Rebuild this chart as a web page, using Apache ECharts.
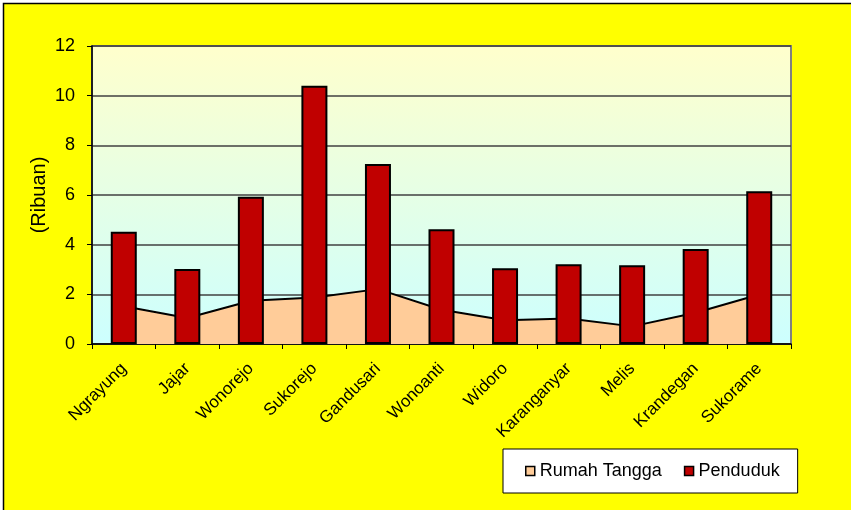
<!DOCTYPE html>
<html>
<head>
<meta charset="utf-8">
<script src="https://cdn.jsdelivr.net/npm/echarts@6/dist/echarts.min.js"></script>
<style>
html,body{margin:0;padding:0;background:#fff;}
#c{width:851px;height:510px;}
</style>
</head>
<body>
<div id="c"></div>
<script>
var categories = ['Ngrayung','Jajar','Wonorejo','Sukorejo','Gandusari','Wonoanti','Widoro','Karanganyar','Melis','Krandegan','Sukorame'];
var rumahTangga = [1.52, 1.05, 1.74, 1.87, 2.21, 1.38, 0.96, 1.03, 0.71, 1.26, 1.99];
var penduduk = [4.52, 3.02, 5.93, 10.40, 7.25, 4.62, 3.05, 3.21, 3.17, 3.83, 6.15];
var yTicks = [0, 2, 4, 6, 8, 10, 12];

var FONT = "'Liberation Sans', Arial, sans-serif";
var chart = echarts.init(document.getElementById('c'));
chart.setOption({
  backgroundColor: '#ffffff',
  animation: false,
  graphic: [{
    type: 'rect', z: -100, silent: true,
    shape: {x: 3.5, y: 3.5, width: 900, height: 600},
    style: {fill: '#ffff00', stroke: '#000000', lineWidth: 1.5}
  }],
  grid: {
    left: 92, top: 46, right: 60, bottom: 166,
    show: true,
    borderColor: '#808080', borderWidth: 2,
    backgroundColor: {
      type: 'linear', x: 0, y: 0, x2: 0, y2: 1,
      colorStops: [{offset: 0, color: '#FFFFCC'}, {offset: 1, color: '#CCFFFF'}]
    }
  },
  legend: {
    left: 503, top: 449,
    orient: 'horizontal',
    backgroundColor: '#ffffff',
    borderColor: '#000000', borderWidth: 1,
    padding: [13, 18, 13, 22],
    itemWidth: 9, itemHeight: 9, itemGap: 22,
    textStyle: {fontFamily: FONT, fontSize: 18, color: '#000'},
    data: [
      {name: 'Rumah Tangga', icon: 'rect', itemStyle: {color: '#FFCC99', borderColor: '#000', borderWidth: 1.5}},
      {name: 'Penduduk', icon: 'rect', itemStyle: {color: '#C00000', borderColor: '#000', borderWidth: 1.5}}
    ]
  },
  xAxis: {
    type: 'category',
    data: categories,
    boundaryGap: true,
    axisLine: {show: true, lineStyle: {color: '#000', width: 1.5}},
    axisTick: {show: true, inside: false, length: 5, interval: 0, lineStyle: {color: '#000', width: 1}},
    axisLabel: {interval: 0, rotate: 45, margin: 22, fontFamily: FONT, fontSize: 17, color: '#000'}
  },
  yAxis: {
    type: 'value',
    min: yTicks[0], max: yTicks[yTicks.length - 1], interval: 2,
    name: '(Ribuan)', nameLocation: 'middle', nameRotate: 90, nameGap: 43,
    nameMoveOverlap: false,
    nameTextStyle: {fontFamily: FONT, fontSize: 20, color: '#000'},
    axisLine: {show: true, lineStyle: {color: '#000', width: 1.5}},
    axisTick: {show: true, inside: false, length: 5, lineStyle: {color: '#000', width: 1}},
    axisLabel: {margin: 17, fontFamily: FONT, fontSize: 18, color: '#000'},
    splitLine: {show: true, lineStyle: {color: '#404040', width: 1.5}}
  },
  series: [
    {
      name: 'Rumah Tangga',
      type: 'line',
      data: rumahTangga,
      symbol: 'none',
      z: 1,
      itemStyle: {color: '#FFCC99'},
      lineStyle: {color: '#000', width: 2},
      areaStyle: {color: '#FFCC99', opacity: 1}
    },
    {
      name: 'Penduduk',
      type: 'bar',
      data: penduduk,
      barWidth: 26,
      z: 3,
      itemStyle: {color: '#C00000', borderColor: '#000', borderWidth: 2}
    }
  ]
});
</script>
</body>
</html>
